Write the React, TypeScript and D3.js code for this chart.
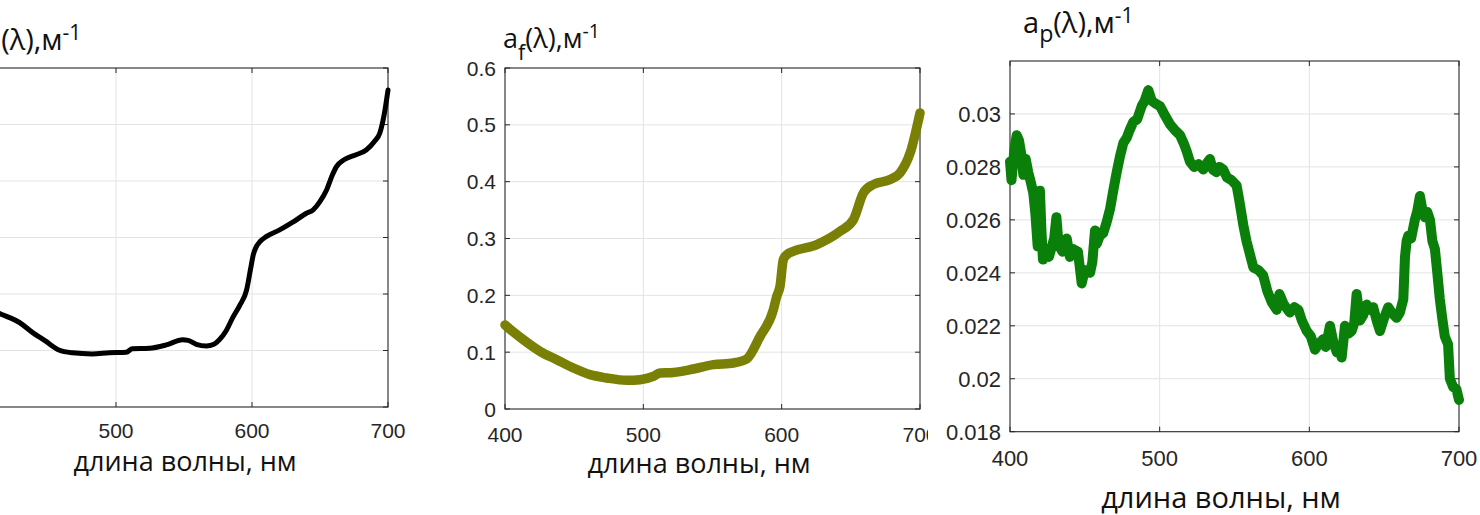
import React from 'react';
import * as d3 from 'd3';

// wavelength grid shared by all three panels
const xTicks = [400, 500, 600, 700];

// left panel: total absorption a(λ), black
const totalWl = [400, 405, 414, 420, 428.7, 438, 448, 458, 468, 482.5, 495, 507.6, 512, 524.5, 537, 549, 553, 559, 566.5, 572, 576, 581, 586, 591, 596, 599, 601, 603, 606, 610.7, 620, 630, 640, 645, 649.8, 655, 659, 662, 668, 676, 684, 690, 694, 697, 700];
const totalAbs = [0.19, 0.182, 0.166, 0.16, 0.15, 0.133, 0.117, 0.101, 0.096, 0.094, 0.096, 0.097, 0.103, 0.104, 0.11, 0.119, 0.118, 0.111, 0.108, 0.111, 0.119, 0.135, 0.159, 0.18, 0.207, 0.245, 0.27, 0.283, 0.293, 0.302, 0.313, 0.327, 0.343, 0.349, 0.363, 0.385, 0.41, 0.425, 0.438, 0.446, 0.455, 0.47, 0.485, 0.515, 0.561];
const totalTicks = [0, 0.1, 0.2, 0.3, 0.4, 0.5, 0.6];

// middle panel: phytoplankton absorption a_f(λ), olive
const phytoWl = [400, 401.2, 413.2, 425.3, 437.4, 449.4, 461.5, 473.5, 488, 497.6, 507.2, 512, 521.7, 536.2, 550.6, 565.1, 574.7, 584.4, 594, 596.4, 598.8, 601.2, 604, 608.5, 625.4, 642.2, 651.9, 659.1, 666.3, 678.4, 685.6, 692.9, 700];
const phytoAbs = [0.148, 0.1454, 0.122, 0.1014, 0.0868, 0.0722, 0.0604, 0.0546, 0.0504, 0.0516, 0.0574, 0.0634, 0.0644, 0.0704, 0.078, 0.081, 0.088, 0.1278, 0.1748, 0.198, 0.2158, 0.2628, 0.272, 0.2775, 0.2893, 0.3127, 0.3333, 0.3803, 0.395, 0.4037, 0.4155, 0.4507, 0.521];
const phytoTicks = [0, 0.1, 0.2, 0.3, 0.4, 0.5, 0.6];

// right panel: particle absorption a_p(λ), green
const particleWl = [400, 401, 403, 404.5, 406, 407.8, 408.9, 410.5, 412.2, 414, 415.6, 417, 418.5, 420, 421, 422, 424, 426, 428, 429.5, 431, 432, 433, 435, 437.9, 440, 442, 445.4, 447.9, 450, 453.5, 455, 456.8, 458, 460, 462.3, 464.5, 466.8, 469, 471.3, 473.5, 475.7, 478, 480, 482.4, 485, 488, 490, 492.4, 494.7, 497, 500.2, 503, 507, 510, 513.6, 516, 518, 520.2, 523, 526, 529.1, 531, 533.6, 535.5, 538, 540, 542.5, 545, 548, 551.4, 553, 555.9, 558, 560.3, 562.6, 566, 569.2, 572, 574.8, 578.2, 580, 583, 587, 590, 592.7, 595, 598.3, 601, 603.8, 606, 609.4, 611, 613.8, 616, 618.3, 620, 621.6, 623.8, 626, 628.3, 630, 631.6, 633, 633.8, 636, 638.3, 640.5, 642.7, 645, 647.2, 650, 652.7, 655, 658.3, 660.5, 662.8, 663.9, 665, 666.1, 668, 670.5, 672, 673.9, 675.5, 677.2, 678.8, 680.6, 682.2, 683.9, 685.5, 687.2, 689, 690.5, 692.7, 693.9, 696, 698.3, 700];
const particleAbs = [0.0282, 0.0275, 0.0287, 0.0292, 0.029, 0.0284, 0.0277, 0.0283, 0.0278, 0.0274, 0.027, 0.0262, 0.025, 0.0271, 0.0256, 0.0245, 0.0249, 0.0246, 0.025, 0.0253, 0.0261, 0.0254, 0.025, 0.0248, 0.0253, 0.0246, 0.0249, 0.0248, 0.0236, 0.0241, 0.024, 0.0244, 0.0256, 0.0251, 0.0254, 0.0255, 0.0259, 0.0264, 0.0271, 0.0278, 0.0284, 0.0289, 0.0291, 0.0294, 0.0297, 0.0298, 0.0303, 0.0305, 0.0309, 0.0305, 0.0304, 0.0303, 0.03, 0.0296, 0.0294, 0.0292, 0.0289, 0.0286, 0.0282, 0.028, 0.0281, 0.0279, 0.0281, 0.0283, 0.0279, 0.0278, 0.028, 0.0279, 0.0276, 0.0275, 0.0273, 0.0268, 0.0258, 0.0252, 0.0247, 0.0242, 0.0241, 0.0239, 0.0233, 0.0229, 0.0226, 0.0232, 0.0228, 0.0225, 0.0227, 0.0226, 0.0222, 0.0218, 0.0216, 0.0211, 0.0213, 0.0215, 0.0212, 0.022, 0.0214, 0.021, 0.0212, 0.0208, 0.022, 0.0217, 0.0218, 0.0221, 0.0232, 0.0226, 0.0222, 0.0224, 0.0228, 0.0226, 0.0227, 0.0222, 0.0218, 0.0223, 0.0227, 0.0225, 0.0223, 0.0225, 0.023, 0.0246, 0.0252, 0.0254, 0.0253, 0.026, 0.0263, 0.0269, 0.0264, 0.0261, 0.0263, 0.026, 0.0252, 0.0249, 0.024, 0.023, 0.0222, 0.0216, 0.0213, 0.02, 0.0197, 0.0196, 0.0192];
const particleTicks = [0.018, 0.02, 0.022, 0.024, 0.026, 0.028, 0.03];

const xTitle = 'длина волны, нм';
const tickFont = '"Liberation Sans", Arial, sans-serif';
const textFont = '"Open Sans", "Noto Sans", sans-serif';
const axisColor = '#262626';
const gridColor = '#e3e3e3';

type PanelProps = {
  left: number; right: number; top: number; bottom: number;
  yDomain: [number, number];
  yTicks: number[];
  showYLabels: boolean;
  wl: number[]; vals: number[];
  color: string; strokeWidth: number;
  smooth: boolean;
  tickSize: number;
  labelGap: number;
  titleX: number; titleY: number; titleSize: number;
  label: { x: number; y: number; sub: string; size: number; subDrop: number };
};

function Panel(p: PanelProps) {
  const x = d3.scaleLinear().domain([400, 700]).range([p.left, p.right]);
  const y = d3.scaleLinear().domain(p.yDomain).range([p.bottom, p.top]);
  const pts = p.wl.map((w, i) => [w, p.vals[i]] as [number, number]);
  const line = d3.line<[number, number]>()
    .x(d => x(d[0]))
    .y(d => y(d[1]))
    .curve(p.smooth ? d3.curveMonotoneX : d3.curveLinear);
  const fmt = (v: number) => String(+v.toFixed(3));
  const tl = 5;
  const s = p.label.size;
  const drop = s * p.label.subDrop;

  return (
    <g>
      {/* grid */}
      {xTicks.slice(1, -1).map(t => (
        <line key={'gx' + t} x1={x(t)} x2={x(t)} y1={p.top} y2={p.bottom} stroke={gridColor} />
      ))}
      {p.yTicks.filter(t => y(t) > p.top + 1 && y(t) < p.bottom - 1).map(t => (
        <line key={'gy' + t} x1={p.left} x2={p.right} y1={y(t)} y2={y(t)} stroke={gridColor} />
      ))}

      {/* box + inward ticks */}
      <rect x={p.left} y={p.top} width={p.right - p.left} height={p.bottom - p.top}
        fill="none" stroke={axisColor} strokeWidth={1.1} />
      {xTicks.map(t => (
        <g key={'tx' + t}>
          <line x1={x(t)} x2={x(t)} y1={p.bottom} y2={p.bottom - tl} stroke={axisColor} />
          <line x1={x(t)} x2={x(t)} y1={p.top} y2={p.top + tl} stroke={axisColor} />
        </g>
      ))}
      {p.yTicks.map(t => (
        <g key={'ty' + t}>
          <line x1={p.left} x2={p.left + tl} y1={y(t)} y2={y(t)} stroke={axisColor} />
          <line x1={p.right} x2={p.right - tl} y1={y(t)} y2={y(t)} stroke={axisColor} />
        </g>
      ))}

      {/* tick labels */}
      {xTicks.filter(t => x(t) > 0).map(t => (
        <text key={'lx' + t} x={x(t)} y={p.bottom + p.labelGap} textAnchor="middle"
          fontFamily={tickFont} fontSize={p.tickSize} fill={axisColor}>{t}</text>
      ))}
      {p.showYLabels && p.yTicks.map(t => (
        <text key={'ly' + t} x={p.left - 9} y={y(t)} dy="0.36em" textAnchor="end"
          fontFamily={tickFont} fontSize={p.tickSize} fill={axisColor}>{fmt(t)}</text>
      ))}

      <path d={line(pts) || ''} fill="none" stroke={p.color} strokeWidth={p.strokeWidth}
        strokeLinejoin="round" strokeLinecap="round" />

      {/* axis title */}
      <text x={p.titleX} y={p.titleY} textAnchor="middle" fontFamily={textFont}
        fontSize={p.titleSize} fill="#111">{xTitle}</text>

      {/* quantity label */}
      <text x={p.label.x} y={p.label.y} fontFamily={textFont} fontSize={s} fill="#111">
        <tspan>a</tspan>
        {p.label.sub ? <tspan fontSize={s * 0.8} dy={drop}>{p.label.sub}</tspan> : null}
        <tspan dy={p.label.sub ? -drop : 0}>(λ),м</tspan>
        <tspan fontSize={s * 0.72} dy={-s * 0.36}>-1</tspan>
      </text>
    </g>
  );
}

export default function App() {
  return (
    <svg width={1480} height={515} style={{ position: 'absolute', left: 0, top: 0, background: '#fff' }}>
      <rect width={1480} height={515} fill="#fff" />
      <Panel left={-20} right={388} top={68} bottom={407} yDomain={[0, 0.6]} yTicks={totalTicks} showYLabels={false}
        wl={totalWl} vals={totalAbs} color="#000" strokeWidth={5} smooth
        tickSize={21} labelGap={31} titleX={185} titleY={471} titleSize={27}
        label={{ x: -15, y: 50, sub: '', size: 29, subDrop: 0 }} />
      <Panel left={505} right={920} top={68} bottom={409} yDomain={[0, 0.6]} yTicks={phytoTicks} showYLabels
        wl={phytoWl} vals={phytoAbs} color="#7a7f05" strokeWidth={9.5} smooth
        tickSize={21} labelGap={33} titleX={699} titleY={473} titleSize={27}
        label={{ x: 503, y: 48, sub: 'f', size: 27, subDrop: 0.45 }} />
      {/* right figure is pasted over the middle one */}
      <rect x={928} y={0} width={552} height={515} fill="#fff" />
      <Panel left={1010} right={1459} top={61} bottom={431.7} yDomain={[0.018, 0.032]} yTicks={particleTicks} showYLabels
        wl={particleWl} vals={particleAbs} color="#0a7f0a" strokeWidth={10} smooth={false}
        tickSize={22} labelGap={34} titleX={1221} titleY={508} titleSize={29}
        label={{ x: 1023, y: 33, sub: 'p', size: 29, subDrop: 0.3 }} />
    </svg>
  );
}
